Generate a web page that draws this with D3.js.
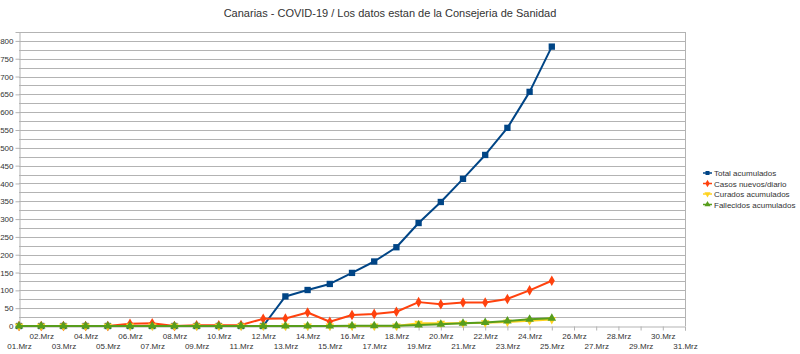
<!DOCTYPE html>
<html>
<head>
<meta charset="utf-8">
<script src="https://cdn.jsdelivr.net/npm/d3@7"></script>
<style>
  body { margin: 0; background: #fff; }
  svg { font-family: "Liberation Sans", Arial, sans-serif; }
</style>
</head>
<body>
<svg id="chart" width="800" height="354"></svg>
<script>
// March dates (categories)
const days = d3.range(1, 32).map(d => (d < 10 ? "0" + d : "" + d) + ".Mrz");

// series values, 01.Mrz .. 25.Mrz
const totalAcumulados = [0,0,0,0,0,0,0,0,0,0,0,0,83,101,118,149,181,221,289,348,413,480,556,657,784];
const casosNuevos     = [0,0,0,0,0,6,8,0,2,2,3,20,21,38,12,31,34,40,67,61,66,66,76,100,127];
const curados         = [0,0,0,0,0,0,0,0,0,0,0,0,0,0,0,0,0,0,8,8,8,9,11,15,18];
const fallecidos      = [0,0,0,0,0,0,0,0,0,0,0,0,0,0,0,1,1,1,3,5,8,10,14,19,22];

const seriesNames  = ["Total acumulados", "Casos nuevos/diario", "Curados acumulados", "Fallecidos acumulados"];
const seriesValues = [totalAcumulados, casosNuevos, curados, fallecidos];
const colors  = ["#004586", "#ff420e", "#ffd320", "#579d1c"];
const symbols = [d3.symbolSquare, d3.symbolDiamond, d3.symbolTriangle, d3.symbolTriangle];
const symRot  = [0, 0, 180, 0];

const yTicks = d3.range(0, 801, 50);

const svg = d3.select("#chart");
const plotLeft = 19, plotRight = 685, plotTop = 32, plotBottom = 326;

const x = d3.scalePoint().domain(days).range([plotLeft, plotRight]);
const y = d3.scaleLinear().domain([0, 825]).range([plotBottom, plotTop]);

// title
svg.append("text")
  .attr("x", 390).attr("y", 17)
  .attr("text-anchor", "middle")
  .attr("font-size", 11)
  .attr("fill", "#333")
  .text("Canarias - COVID-19 / Los datos estan de la Consejeria de Sanidad");

// gridlines every 25
svg.append("g")
  .selectAll("line")
  .data(d3.range(25, 826, 25))
  .join("line")
  .attr("x1", plotLeft).attr("x2", plotRight)
  .attr("y1", d => Math.round(y(d)) + 0.5)
  .attr("y2", d => Math.round(y(d)) + 0.5)
  .attr("stroke", "#b3b3b3")
  .attr("stroke-width", 1);

// right border
svg.append("line")
  .attr("x1", plotRight + 0.5).attr("x2", plotRight + 0.5)
  .attr("y1", plotTop).attr("y2", plotBottom)
  .attr("stroke", "#b3b3b3");

// y axis
const yAxis = svg.append("g")
  .attr("transform", `translate(${plotLeft + 0.5},0)`)
  .call(d3.axisLeft(y).tickValues(yTicks).tickSize(4).tickPadding(2));
yAxis.select(".domain").attr("stroke", "#b3b3b3");
yAxis.selectAll(".tick line").attr("stroke", "#b3b3b3");
yAxis.selectAll("text").attr("font-size", 8).attr("fill", "#333")
  .attr("font-family", "Liberation Sans, Arial, sans-serif");

// x axis
const xAxis = svg.append("g")
  .attr("transform", `translate(0,${plotBottom + 0.5})`)
  .call(d3.axisBottom(x).tickSize(4).tickPadding(2));
xAxis.select(".domain").attr("stroke", "#b3b3b3");
xAxis.selectAll(".tick line").attr("stroke", "#b3b3b3");
xAxis.selectAll("text")
  .attr("font-size", 8).attr("fill", "#333")
  .attr("font-family", "Liberation Sans, Arial, sans-serif")
  .attr("y", (d, i) => i % 2 === 0 ? 17 : 7);

// series
const line = d3.line().x((d, i) => x(days[i])).y(d => y(d));

seriesValues.forEach((vals, s) => {
  const g = svg.append("g");
  g.append("path")
    .datum(vals)
    .attr("fill", "none")
    .attr("stroke", colors[s])
    .attr("stroke-width", 2)
    .attr("stroke-linejoin", "round")
    .attr("d", line);
  g.selectAll("path.sym")
    .data(vals)
    .join("path")
    .attr("class", "sym")
    .attr("d", d3.symbol().type(symbols[s]).size(s === 0 ? 40 : 32))
    .attr("transform", (d, i) => `translate(${x(days[i])},${y(d)}) rotate(${symRot[s]})`)
    .attr("fill", colors[s]);
});

// legend
const legend = svg.append("g");
seriesNames.forEach((name, s) => {
  const ly = 173 + s * 10.5;
  legend.append("line")
    .attr("x1", 703).attr("x2", 712)
    .attr("y1", ly).attr("y2", ly)
    .attr("stroke", colors[s]).attr("stroke-width", 1.5);
  legend.append("path")
    .attr("d", d3.symbol().type(symbols[s]).size(16))
    .attr("transform", `translate(707.5,${ly}) rotate(${symRot[s]})`)
    .attr("fill", colors[s]);
  legend.append("text")
    .attr("x", 714).attr("y", ly + 3)
    .attr("font-size", 8).attr("fill", "#333")
    .text(name);
});
</script>
</body>
</html>
